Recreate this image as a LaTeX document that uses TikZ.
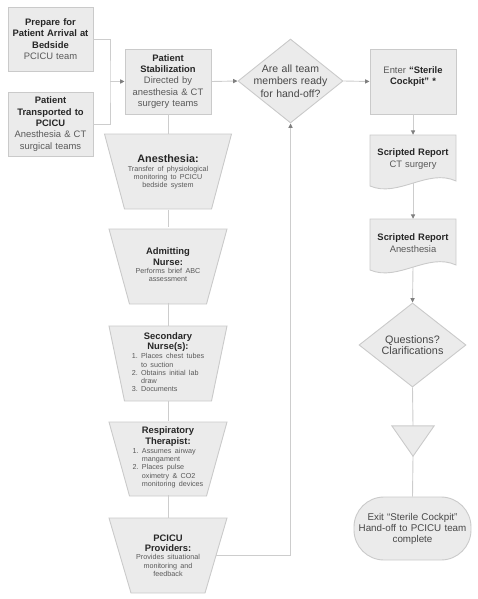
\documentclass[tikz,border=0pt]{standalone}
\usepackage{fontspec}
\setmainfont{Liberation Sans}
\usetikzlibrary{arrows.meta,shapes.geometric,calc}
\definecolor{fillc}{HTML}{EBEBEB}
\definecolor{bordc}{HTML}{CACACA}
\definecolor{linec}{HTML}{CDCDCD}
\definecolor{tipc}{HTML}{808080}
\definecolor{txtd}{HTML}{262626}
\definecolor{txtg}{HTML}{595959}
\newcommand\mbig{\fontsize{9.4}{11.3}\selectfont}
\newcommand\mttl{\fontsize{9.4}{10.6}\selectfont\bfseries\color{txtd}}
\newcommand\mdtl{\fontsize{7.2}{8.3}\selectfont\color{txtg}}
\begin{document}
\begin{tikzpicture}[x=1pt,y=-1pt,
  shp/.style={draw=bordc, fill=fillc, line width=0.9pt},
  box/.style={shp, rectangle, inner sep=0pt, align=center},
  ph/.style={inner sep=0pt, align=center},
  ln/.style={draw=linec, line width=0.9pt},
  arr/.style={ln, -{Triangle[length=4.5pt,width=4.2pt,color=tipc]}},
  diam/.style={shp, diamond, inner sep=0pt},
  ]
\useasboundingbox (0,0) rectangle (477,599);

% left boxes
\node[box, minimum width=85, minimum height=64, text width=82, font=\mbig] (b1) at (50.5,39)
  {{\bfseries\color{txtd}Prepare for\\Patient Arrival at\\Bedside\par}{\color{txtg}PCICU team\par}};
\node[box, minimum width=85, minimum height=64, text width=82, font=\mbig] (b2) at (50.5,124)
  {{\bfseries\color{txtd}Patient\\Transported to\\PCICU\par}{\color{txtg}Anesthesia \& CT\\surgical teams\par}};
\node[box, minimum width=86, minimum height=65, text width=82, font=\mbig] (stab) at (168,81.5)
  {{\bfseries\color{txtd}Patient\\Stabilization\par}{\color{txtg}Directed by\\anesthesia \& CT\\surgery teams\par}};

% trapezoids
\filldraw[shp] (104.5,134) -- (231.5,134) -- (211.5,209) -- (124.5,209) -- cycle;
\node[ph, minimum width=127, minimum height=75, text width=110] (t1) at (168,172)
  {{\fontsize{10.8}{11.5}\selectfont\bfseries\color{txtd}Anesthesia:\par}{\mdtl Transfer of physiological\\monitoring to PCICU\\bedside system\par}};
\filldraw[shp] (109,229) -- (227,229) -- (206.5,304) -- (129.5,304) -- cycle;
\node[ph, minimum width=118, minimum height=75, text width=110] (t2) at (168,265)
  {{\mttl Admitting\\Nurse:\par}{\mdtl Performs brief ABC\\assessment\par}};
\filldraw[shp] (109,326) -- (227,326) -- (211.5,401) -- (124.5,401) -- cycle;
\node[ph, minimum width=118, minimum height=75, text width=110] (t3) at (168,363.5)
  {{\mttl Secondary\\Nurse(s):\par}{\mdtl\begin{tabular}{@{}r@{\ }l@{}}1.&Places chest tubes\\&to suction\\2.&Obtains initial lab\\&draw\\3.&Documents\end{tabular}\par}};
\filldraw[shp] (109,422) -- (227,422) -- (206.5,496) -- (129.5,496) -- cycle;
\node[ph, minimum width=118, minimum height=74, text width=110] (t4) at (168,458)
  {{\mttl Respiratory\\Therapist:\par}{\mdtl\begin{tabular}{@{}r@{\ }l@{}}1.&Assumes airway\\&mangament\\2.&Places pulse\\&oximetry \& CO2\\&monitoring devices\end{tabular}\par}};
\filldraw[shp] (109,518) -- (227,518) -- (205,593) -- (131,593) -- cycle;
\node[ph, minimum width=118, minimum height=75, text width=110] (t5) at (168,555.5)
  {{\mttl PCICU\\Providers:\par}{\mdtl Provides situational\\monitoring and\\feedback\par}};
\coordinate (fb) at (216.3,555);

% decision 1
\node[diam, minimum width=105, minimum height=84] (d1) at (290.5,81) {};
\node[ph, text width=90, font=\fontsize{10.5}{12.3}\selectfont, text=txtd!85] (d1t) at (d1.center)
  {Are all team\\members ready\\for hand-off?};

% right column
\node[box, minimum width=86, minimum height=65] (ster) at (413,81.5) {};
\node[ph, text width=84, font=\mbig] (stert) at (413,76.5)
  {{\color{txtg}Enter }{\bfseries\color{txtd}“Sterile\\Cockpit” *}};

\filldraw[shp] (370,135) -- (456,135) -- (456,181) .. controls (428,168) and (398,198) .. (370,186) -- cycle;
\node[ph, minimum width=86, minimum height=48, text width=84, font=\mbig] (rep1) at (413,159)
  {{\bfseries\color{txtd}Scripted Report\par}{\color{txtg}CT surgery\par}};
\filldraw[shp] (370,219) -- (456,219) -- (456,265) .. controls (428,252) and (398,282) .. (370,270) -- cycle;
\node[ph, minimum width=86, minimum height=48, text width=84, font=\mbig] (rep2) at (413,243)
  {{\bfseries\color{txtd}Scripted Report\par}{\color{txtg}Anesthesia\par}};

\node[diam, minimum width=107, minimum height=84] (d2) at (412.5,345) {};
\node[ph, text width=100, font=\fontsize{10.8}{11.5}\selectfont, text=txtd!85] (d2t) at (d2.center)
  {Questions?\\Clarifications};

\node[ph, minimum width=42, minimum height=30] (tri) at (413,441) {};
\filldraw[shp] (tri.north west) -- (tri.north east) -- (tri.south) -- cycle;

\node[box, minimum width=117, minimum height=63, rounded corners=30pt] (term) at (412.5,528.5) {};
\node[ph, text width=112, font=\fontsize{9.8}{11}\selectfont, text=txtd!85] (termt) at (term.center)
  {Exit “Sterile Cockpit”\\Hand-off to PCICU team\\complete};

% connectors
\coordinate (j) at (110,81.5);
\draw[ln] (b1.east) -| (j) |- (b2.east);
\draw[arr] (j) -- (stab.west);
\draw[arr] (stab.east) -- (d1.west);
\draw[arr] (d1.east) -- (ster.west);
\draw[arr] (ster.south) -- (rep1.north);
\draw[arr] (rep1.south) -- (rep2.north);
\draw[arr] (rep2.south) -- (d2.north);
\draw[ln] (d2.south) -- (tri.north);
\draw[ln] (tri.south) -- (term.north);
\draw[ln] (stab.south) -- (t1.north);
\draw[ln] (t1.south) -- (t2.north);
\draw[ln] (t2.south) -- (t3.north);
\draw[ln] (t3.south) -- (t4.north);
\draw[ln] (t4.south) -- (t5.north);
\draw[arr] (fb) -| (d1.south);
\end{tikzpicture}
\end{document}
